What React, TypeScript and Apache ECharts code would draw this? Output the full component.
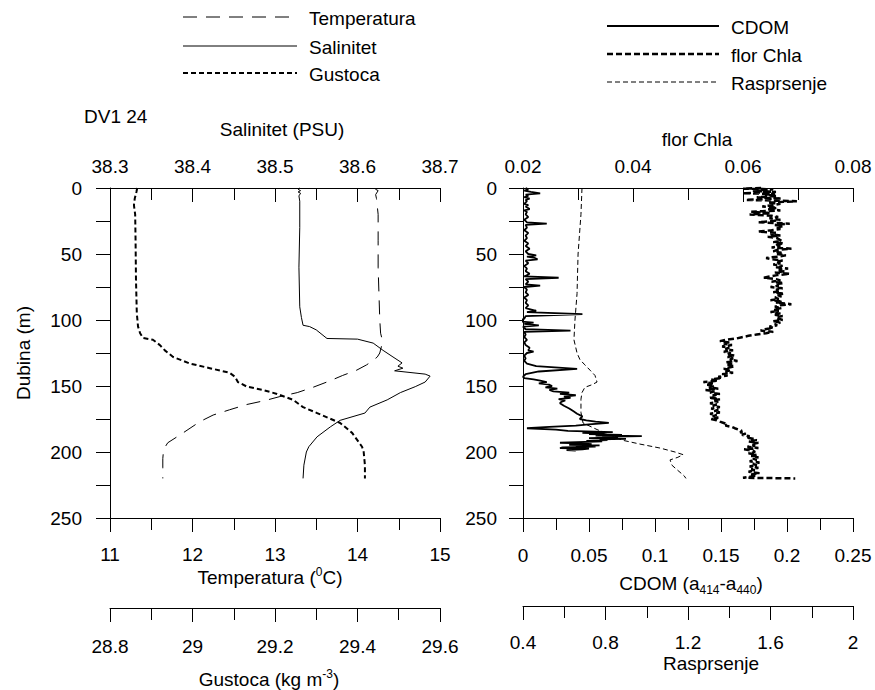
import React, { useEffect, useRef } from 'react';
import * as echarts from 'echarts';

const FONT = '"Liberation Sans", Arial, Helvetica, sans-serif';

// ---------- Left panel profiles: [depth (m), value] ----------
const temperatura: number[][] = [
  [0, 14.23], [1, 14.22], [2, 14.25], [3, 14.24], [5, 14.22], [8, 14.23], [14, 14.24], [20, 14.25],
  [40, 14.25], [60, 14.25], [80, 14.26], [100, 14.27], [110, 14.28], [115, 14.3], [120, 14.29],
  [125, 14.27], [128, 14.24], [131, 14.18], [134, 14.11], [138, 13.99], [142, 13.82], [146, 13.67],
  [151, 13.46], [155, 13.27], [158, 13.06], [161, 12.88], [164, 12.66], [168, 12.45], [172, 12.25],
  [177, 12.09], [182, 11.97], [187, 11.85], [193, 11.7], [198, 11.65], [205, 11.64], [212, 11.64], [220, 11.64],
];

const salinitet: number[][] = [
  [0, 38.53], [1, 38.528], [2, 38.531], [3, 38.528], [4, 38.531], [6, 38.529], [10, 38.53], [30, 38.53],
  [60, 38.529], [90, 38.53], [98, 38.532], [104, 38.534], [105, 38.542], [107.5, 38.55], [114, 38.563],
  [114.5, 38.6], [117.5, 38.619], [123, 38.631], [128, 38.643], [132.5, 38.654], [135, 38.649],
  [136.5, 38.655], [138.5, 38.645], [141, 38.682], [142.5, 38.688], [147, 38.682], [150.5, 38.67],
  [155, 38.652], [160.5, 38.636], [166, 38.615], [170.5, 38.609], [176, 38.579], [181, 38.567],
  [188.5, 38.551], [196, 38.541], [200, 38.538], [210, 38.535], [220, 38.534],
];

const gustoca: number[][] = [
  [0, 28.866], [3, 28.864], [8, 28.86], [13, 28.858], [20, 28.861], [40, 28.862], [70, 28.863],
  [95, 28.865], [105, 28.868], [110, 28.873], [113.6, 28.88], [115, 28.904], [119, 28.921], [123, 28.933],
  [128, 28.953], [133, 28.994], [136.5, 29.042], [140, 29.09], [143, 29.103], [147, 29.11],
  [150.5, 29.132], [153, 29.171], [156, 29.205], [160.5, 29.244], [166, 29.268], [170.5, 29.302],
  [178, 29.358], [185.5, 29.387], [196, 29.411], [200, 29.415], [210, 29.418], [220, 29.418],
];

// ---------- Right panel profiles: [depth (m), value] ----------
const cdom: number[][] = [
  [0, 0.002], [1, 0.004], [2, 0.001], [3, 0.006], [4, 0.013], [5, 0.002], [6, 0.004], [7, 0.001],
  [8, 0.005], [9, 0.002], [10, 0.003], [12, 0.001], [13, 0.004], [14, 0.002], [16, 0.005], [17, 0.001],
  [18, 0.003], [20, 0.002], [22, 0.004], [24, 0.001], [26, 0.003], [27, 0.018], [28, 0.002], [30, 0.003],
  [32, 0.001], [34, 0.004], [36, 0.002], [38, 0.003], [40, 0.001], [42, 0.004], [44, 0.002], [46, 0.005],
  [48, 0.002], [50, 0.004], [51, 0.01], [52, 0.003], [53, 0.009], [54, 0.011], [55, 0.002], [57, 0.004],
  [59, 0.001], [61, 0.003], [63, 0.002], [65, 0.005], [67, 0.001], [68, 0.027], [69, 0.002], [71, 0.004],
  [73, 0.002], [74, 0.013], [75, 0.001], [77, 0.003], [79, 0.002], [81, 0.004], [83, 0.001], [85, 0.003],
  [87, 0.002], [89, 0.004], [91, 0.002], [93, 0.01], [94, 0.003], [95.5, 0.045], [97, 0.002], [99, 0.001],
  [101, -0.004], [102, 0.008], [103, 0.001], [104, 0.012], [105, 0.0], [107, 0.002], [108, 0.036],
  [109, 0.001], [111, 0.002], [113, 0.001], [115, 0.003], [117, 0.001], [119, 0.002], [121, 0.005],
  [123, 0.004], [124, 0.008], [125, 0.003], [127, 0.001], [129, 0.002], [131, 0.001], [133, 0.003],
  [135, 0.01], [137, 0.041], [139, 0.012], [141, 0.002], [143, 0.0], [144, 0.001], [145, 0.008],
  [146, 0.013], [147, 0.018], [148, 0.012], [149, 0.02], [150, 0.022], [151, 0.017], [152, 0.026],
  [153, 0.02], [154, 0.023], [155, 0.035], [156, 0.028], [157, 0.04], [158, 0.031], [159, 0.036],
  [160, 0.027], [161, 0.032], [162, 0.029], [163, 0.028], [165, 0.031], [167, 0.035], [169, 0.038],
  [171, 0.041], [173, 0.045], [175, 0.043], [176, 0.048], [177, 0.055], [178, 0.065], [179, 0.05],
  [180, 0.04], [181, 0.02], [182, 0.003], [183, 0.025], [184, 0.034], [185, 0.068], [185.5, 0.045],
  [186, 0.062], [186.5, 0.05], [187, 0.075], [187.5, 0.055], [188, 0.09], [188.5, 0.06], [189, 0.072],
  [189.5, 0.05], [190, 0.078], [190.5, 0.058], [191, 0.064], [191.5, 0.048], [192, 0.06], [193, 0.028],
  [193.5, 0.045], [194, 0.052], [194.5, 0.035], [195, 0.058], [195.5, 0.04], [196, 0.055], [196.5, 0.03],
  [197, 0.028], [197.5, 0.05], [198, 0.045], [198.5, 0.033], [199, 0.04],
];

const florChla: number[][] = [
  [0, 0.0633], [0.5, 0.06], [1, 0.0655], [2, 0.0618], [3, 0.066], [4, 0.06], [4.5, 0.0658], [5, 0.064],
  [6, 0.0662], [7, 0.0625], [8, 0.067], [9, 0.0605], [10, 0.0698], [11, 0.0645], [12, 0.0668],
  [13, 0.0655], [14, 0.0635], [15, 0.0662], [16, 0.0645], [17, 0.0668], [18, 0.0615], [19, 0.065],
  [20, 0.0612], [21, 0.0652], [22, 0.0664], [23, 0.0648], [24, 0.0668], [25, 0.0655], [26, 0.0628],
  [27, 0.0685], [28, 0.0658], [29, 0.0672], [30, 0.066], [31, 0.0668], [32, 0.0652], [33, 0.0628],
  [34, 0.0662], [35, 0.065], [36, 0.0668], [37, 0.0645], [38, 0.0662], [40, 0.067], [41, 0.0655],
  [42, 0.0674], [43, 0.0658], [44, 0.0668], [45, 0.0652], [46, 0.0688], [47, 0.0662], [48, 0.0655],
  [49, 0.067], [50, 0.0662], [51, 0.0678], [52, 0.0664], [53, 0.0642], [54, 0.0652], [55, 0.0672],
  [56, 0.066], [57, 0.0668], [58, 0.0655], [59, 0.0672], [60, 0.066], [61, 0.0682], [62, 0.0665],
  [63, 0.0675], [64, 0.0658], [65, 0.0685], [66, 0.0662], [67, 0.0648], [68, 0.0638], [69, 0.066],
  [70, 0.0668], [71, 0.0652], [72, 0.0674], [73, 0.0658], [74, 0.0665], [75, 0.065], [76, 0.0672],
  [77, 0.066], [78, 0.0668], [79, 0.0655], [80, 0.0675], [81, 0.066], [82, 0.067], [83, 0.0658],
  [84, 0.0665], [85, 0.065], [86, 0.0672], [87, 0.066], [88, 0.0688], [89, 0.0665], [90, 0.0658],
  [91, 0.067], [92, 0.0655], [93, 0.0665], [94, 0.065], [95, 0.0668], [96, 0.0658], [97, 0.0672],
  [98, 0.066], [99, 0.0665], [100, 0.0672], [101, 0.0655], [102, 0.0668], [103, 0.0658], [104, 0.0662],
  [105, 0.0648], [106, 0.0655], [107, 0.064], [108, 0.0632], [109, 0.0655], [110, 0.0642], [111, 0.0625],
  [112, 0.061], [113, 0.0598], [114, 0.0588], [115, 0.057], [116, 0.0558], [117, 0.0575], [118, 0.0565],
  [119, 0.058], [120, 0.0562], [121, 0.0575], [122, 0.0568], [123, 0.0582], [124, 0.0565], [125, 0.0578],
  [126, 0.057], [127, 0.0585], [128, 0.0572], [129, 0.0582], [130, 0.0576], [131, 0.059], [132, 0.0568],
  [133, 0.058], [134, 0.0572], [135, 0.0585], [136, 0.0575], [137, 0.0565], [138, 0.0578], [139, 0.0568],
  [140, 0.0582], [141, 0.0562], [142, 0.0572], [143, 0.0555], [144, 0.0562], [145, 0.0542], [146, 0.0555],
  [147, 0.0528], [148, 0.0545], [149, 0.0535], [150, 0.0548], [151, 0.0538], [152, 0.0555], [153, 0.0532],
  [154, 0.0548], [155, 0.054], [156, 0.0558], [157, 0.0545], [158, 0.0552], [159, 0.0538], [160, 0.0558],
  [161, 0.0545], [162, 0.0555], [163, 0.054], [164, 0.0552], [165, 0.0545], [166, 0.0558], [167, 0.0542],
  [168, 0.0555], [169, 0.0548], [170, 0.0558], [171, 0.054], [172, 0.0552], [173, 0.0545], [174, 0.0555],
  [175, 0.0542], [176, 0.0552], [177, 0.0558], [178, 0.0565], [179, 0.0572], [180, 0.0568], [181, 0.058],
  [182, 0.0585], [183, 0.0592], [184, 0.0598], [185, 0.0595], [186, 0.0605], [187, 0.0598], [188, 0.0612],
  [189, 0.0605], [190, 0.0618], [191, 0.0625], [192, 0.061], [193, 0.0628], [194, 0.0615], [195, 0.0622],
  [196, 0.0608], [197, 0.0628], [198, 0.0602], [199, 0.0618], [200, 0.0622], [201, 0.061], [202, 0.0625],
  [203, 0.0615], [204, 0.0628], [205, 0.0618], [206, 0.0625], [207, 0.0612], [208, 0.063], [209, 0.0618],
  [210, 0.0625], [211, 0.0612], [212, 0.0628], [213, 0.0615], [214, 0.0622], [215, 0.061], [216, 0.063],
  [217, 0.0615], [218, 0.0622], [219.5, 0.06], [220, 0.0695],
];

const rasprsenje: number[][] = [
  [0, 0.686], [20, 0.681], [50, 0.667], [80, 0.662], [100, 0.652], [115, 0.647], [125, 0.662],
  [130, 0.676], [134, 0.7], [138, 0.725], [142, 0.749], [147, 0.759], [149, 0.735], [151, 0.7],
  [155, 0.686], [160, 0.681], [170, 0.681], [178, 0.691], [183, 0.759], [187, 0.822], [191, 0.88],
  [194, 0.967], [197, 1.064], [200, 1.137], [202, 1.176], [204, 1.151], [206, 1.113], [210, 1.122],
  [214, 1.151], [218, 1.181], [220, 1.19],
];

// ---------- Axis ranges ----------
const depthRange = [0, 250];
const salRange = [38.3, 38.7];
const tempRange = [11, 15];
const densRange = [28.8, 29.6];
const chlaRange = [0.02, 0.08];
const cdomRange = [0, 0.25];
const raspRange = [0.4, 2];

const txt = { color: '#000', fontSize: 19, fontFamily: FONT };

function xAxisDef(
  grid: number, pos: 'top' | 'bottom', range: number[], interval: number,
  name: string, nameGap: number, labelMargin: number, padding: number[], offset = 0, inside = false,
  rich: any = undefined,
) {
  return {
    type: 'value', gridIndex: grid, position: pos, offset,
    min: range[0], max: range[1], interval,
    axisLine: { show: true, onZero: false, lineStyle: { color: '#000', width: 1 } },
    axisTick: { show: true, inside, length: 14, lineStyle: { color: '#000', width: 1 } },
    minorTick: { show: true, splitNumber: 2, length: 12, lineStyle: { color: '#000', width: 1 } },
    splitLine: { show: false }, minorSplitLine: { show: false },
    axisLabel: { ...txt, margin: labelMargin, hideOverlap: false, showMinLabel: true, showMaxLabel: true },
    name, nameLocation: 'middle', nameGap,
    nameTextStyle: { ...txt, padding, rich },
  };
}

function yAxisDef(grid: number, labelMargin: number, name: string) {
  return {
    type: 'value', gridIndex: grid, inverse: true,
    min: depthRange[0], max: depthRange[1], interval: 50,
    axisLine: { show: true, onZero: false, lineStyle: { color: '#000', width: 1 } },
    axisTick: { show: true, inside: false, length: 14, lineStyle: { color: '#000', width: 1 } },
    minorTick: { show: true, splitNumber: 2, length: 14, lineStyle: { color: '#000', width: 1 } },
    splitLine: { show: false }, minorSplitLine: { show: false },
    axisLabel: { ...txt, margin: labelMargin, showMinLabel: true, showMaxLabel: true },
    name, nameLocation: 'middle', nameGap: 77, nameRotate: 90,
    nameTextStyle: { ...txt },
  };
}

const supRich = { sup: { fontSize: 12, fontFamily: FONT, color: '#000', verticalAlign: 'top', lineHeight: 22 } };
const subRich = { sub: { fontSize: 12, fontFamily: FONT, color: '#000', verticalAlign: 'bottom', lineHeight: 26 } };

function lineSeries(data: number[][], xi: number, yi: number, width: number, type: any, z = 2) {
  return {
    type: 'line', xAxisIndex: xi, yAxisIndex: yi, z,
    data: data.map(([d, v]) => [v, d]),
    showSymbol: false, symbol: 'none', clip: false, silent: true,
    lineStyle: { color: '#000', width, type },
  };
}

function legendRow(x1: number, x2: number, y: number, width: number, dash: any, label: string) {
  return [
    { type: 'line', shape: { x1, y1: y, x2, y2: y }, style: { stroke: '#000', lineWidth: width, lineDash: dash }, silent: true },
    { type: 'text', x: x2 + 12, y: y + 1, style: { text: label, fill: '#000', fontSize: 19, fontFamily: FONT, verticalAlign: 'middle', align: 'left' }, silent: true },
  ];
}

export default function App() {
  const ref = useRef<HTMLDivElement>(null);
  useEffect(() => {
    if (!ref.current) return;
    const chart = echarts.init(ref.current, null, { renderer: 'svg' });
    const option: any = {
      animation: false,
      backgroundColor: '#fff',
      grid: [
        { left: 110, top: 188, width: 330, height: 330, containLabel: false },
        { left: 523, top: 188, width: 330, height: 330, containLabel: false },
      ],
      xAxis: [
        xAxisDef(0, 'top', salRange, 0.1, 'Salinitet (PSU)', 49, 12, [0, 0, 0, 14], 0, true),
        xAxisDef(0, 'bottom', tempRange, 1, 'Temperatura ({sup|0}C)', 48, 27, [0, 10, 0, 0], 0, false, supRich),
        xAxisDef(0, 'bottom', densRange, 0.2, 'Gustoca (kg m{sup|-3})', 60, 29, [0, 12, 0, 0], 90, false, supRich),
        xAxisDef(1, 'top', chlaRange, 0.02, 'flor Chla', 39, 12, [0, 0, 0, 18], 0, true),
        xAxisDef(1, 'bottom', cdomRange, 0.05, 'CDOM (a{sub|414}-a{sub|440})', 52, 28, [0, 0, 0, 6], 0, false, subRich),
        xAxisDef(1, 'bottom', raspRange, 0.4, 'Rasprsenje', 48, 27, [0, 0, 0, 46], 88),
      ],
      yAxis: [yAxisDef(0, 28, 'Dubina (m)'), yAxisDef(1, 26, '')],
      series: [
        lineSeries(temperatura, 1, 0, 1, [14, 9]),
        lineSeries(salinitet, 0, 0, 1, 'solid'),
        lineSeries(gustoca, 2, 0, 2, [5, 3]),
        lineSeries(cdom, 4, 1, 1.8, 'solid'),
        lineSeries(florChla, 3, 1, 2.5, [6, 3]),
        lineSeries(rasprsenje, 5, 1, 1, [5, 3]),
      ],
      graphic: [
        ...legendRow(183, 297, 17, 1, [14, 9], 'Temperatura'),
        ...legendRow(183, 297, 46, 1, null, 'Salinitet'),
        ...legendRow(183, 297, 73, 2, [5, 3], 'Gustoca'),
        ...legendRow(607, 719, 26, 2, null, 'CDOM'),
        ...legendRow(607, 719, 54, 2.5, [6, 3], 'flor Chla'),
        ...legendRow(607, 719, 82, 1, [5, 3], 'Rasprsenje'),
        { type: 'text', x: 84, y: 116, style: { text: 'DV1 24', fill: '#000', fontSize: 19, fontFamily: FONT, verticalAlign: 'middle', align: 'left' }, silent: true },
      ],
    };
    chart.setOption(option);
    return () => chart.dispose();
  }, []);
  return <div ref={ref} style={{ position: 'absolute', left: 0, top: 0, width: 875, height: 690 }} />;
}
